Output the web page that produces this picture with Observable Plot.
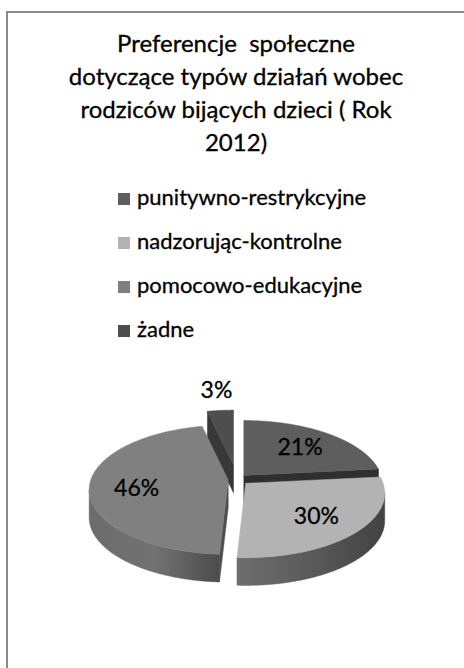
<!DOCTYPE html>
<html><head><meta charset="utf-8">
<script src="https://cdn.jsdelivr.net/npm/d3@7"></script>
<script src="https://cdn.jsdelivr.net/npm/@observablehq/plot@0.6"></script>
<style>
html,body{margin:0;padding:0;background:#fff;}
body{width:464px;height:668px;position:relative;overflow:hidden;font-family:Lato,"Open Sans",sans-serif;color:#000;}
#frame{position:absolute;left:6px;top:11px;right:0;bottom:0;border-top:2px solid #8a8a8a;border-left:2px solid #8a8a8a;}
#title{position:absolute;left:8px;width:456px;top:26.2px;text-align:center;font-size:24px;line-height:33px;-webkit-text-stroke:0.3px #000;}
#title div{white-space:pre;}
#legend{position:absolute;left:118px;top:174.5px;font-size:22px;line-height:44px;-webkit-text-stroke:0.3px #000;}
#legend div{white-space:nowrap;}
.sw{display:inline-block;width:12px;height:12px;margin-right:7px;-webkit-text-stroke:0;}
#chart{position:absolute;left:0;top:360px;}
</style></head><body>
<div id="frame"></div>
<div id="title"></div>
<div id="legend"></div>
<div id="chart"></div>
<script>
// ---- data ----
const titleLines = ["Preferencje  społeczne", "dotyczące typów działań wobec", "rodziców bijących dzieci ( Rok", "2012)"];
const categories = ["punitywno-restrykcyjne", "nadzorując-kontrolne", "pomocowo-edukacyjne", "żadne"];
const values = [21, 30, 46, 3];

// ---- styles ----
const topColors = ["#5e5e5e", "#b3b3b3", "#808080", "#4e4e4e"];
const sideStops = [["#4a4a4a", "#333333"], ["#6e6e6e", "#5a5a5a", "#424242"], ["#6c6c6c", "#727272", "#4c4c4c"], ["#444444", "#2a2a2a"]];
const cutColors = ["#2f2f2f", "#555555", "#4e4e4e", "#383838"];
const explode = [0.086, 0.086, 0.06, 0.23];   // explosion distance (units of radius)
const tilt = 0.465, depth = 0.2, persp = 0.07;

// title + legend
const titleEl = document.getElementById("title");
titleLines.forEach(t => { const d = document.createElement("div"); d.textContent = t; titleEl.appendChild(d); });
const legEl = document.getElementById("legend");
categories.forEach((c, i) => {
  const d = document.createElement("div");
  const s = document.createElement("span"); s.className = "sw"; s.style.background = topColors[i];
  d.appendChild(s); d.appendChild(document.createTextNode(c)); legEl.appendChild(d);
});

// ---- geometry from data ----
const arcs = d3.pie().sort(null).value(d => d)(values);
const step = Math.PI / 360;
function rimPt(c, a, dz = 0) { return {x: c.x + Math.sin(a), y: c.y - Math.cos(a) * tilt + dz}; }
function arcPts(c, a0, a1, dz = 0) {
  const pts = []; const n = Math.max(2, Math.ceil((a1 - a0) / step));
  for (let k = 0; k <= n; k++) pts.push(rimPt(c, a0 + (a1 - a0) * k / n, dz));
  return pts;
}
const slices = arcs.map((a, i) => {
  const mid = (a.startAngle + a.endAngle) / 2;
  const c = {x: explode[i] * Math.sin(mid), y: -explode[i] * Math.cos(mid) * tilt};
  const apex = {x: c.x, y: c.y - persp};
  return {i, a0: a.startAngle, a1: a.endAngle, mid, c, apex, v: a.data};
});

const cutFaces = [], sideFaces = [], topFaces = [], labels = [];
for (const s of slices) {
  const cut = (ang) => {
    const r0 = rimPt(s.c, ang), r1 = rimPt(s.c, ang, depth);
    return [s.apex, r0, r1, {x: s.apex.x, y: s.apex.y + depth}];
  };
  if (Math.sin(s.a1) > 0.01) cutFaces.push({pts: cut(s.a1), fill: cutColors[s.i]});
  if (Math.sin(s.a0) < -0.01) cutFaces.push({pts: cut(s.a0), fill: cutColors[s.i]});
  const f0 = Math.max(s.a0, Math.PI / 2), f1 = Math.min(s.a1, 3 * Math.PI / 2);
  if (f1 > f0) {
    const top = arcPts(s.c, f0, f1), bot = arcPts(s.c, f0, f1, depth).reverse();
    sideFaces.push({pts: top.concat(bot), fill: `url(#side${s.i})`});
  }
  topFaces.push({pts: [s.apex].concat(arcPts(s.c, s.a0, s.a1)), fill: topColors[s.i]});
  const rm = rimPt(s.c, s.mid);
  if (s.v < 5) {
    labels.push({x: s.c.x + 1.3 * (rm.x - s.c.x), y: s.c.y + 1.3 * (rm.y - s.c.y), t: `${s.v}%`});
  } else {
    labels.push({x: s.apex.x + 0.66 * (rm.x - s.apex.x), y: s.apex.y + 0.66 * (rm.y - s.apex.y), t: `${s.v}%`});
  }
}
const faces = cutFaces.concat(sideFaces, topFaces);

const plot = Plot.plot({
  width: 464, height: 250, margin: 0,
  style: {background: "transparent", fontFamily: "Lato, sans-serif"},
  x: {domain: [-1, 1], range: [97, 375], axis: null},
  y: {domain: [-tilt, tilt], range: [64.4, 193.6], axis: null},
  marks: [
    ...faces.map(f => Plot.line(f.pts.concat([f.pts[0]]), {x: "x", y: "y", fill: f.fill, stroke: f.fill, strokeWidth: 0.5, curve: "linear"})),
    Plot.text(labels, {x: "x", y: "y", text: "t", fontSize: 23, fill: "black", stroke: "black", strokeWidth: 0.3})
  ]
});
const defs = d3.select(plot).insert("defs", ":first-child");
sideStops.forEach((stops, i) => {
  const g = defs.append("linearGradient").attr("id", "side" + i).attr("x1", 0).attr("x2", 1).attr("y1", 0).attr("y2", 0);
  stops.forEach((col, j) => g.append("stop").attr("offset", j / (stops.length - 1)).attr("stop-color", col));
});
document.getElementById("chart").appendChild(plot);
</script>
</body></html>
